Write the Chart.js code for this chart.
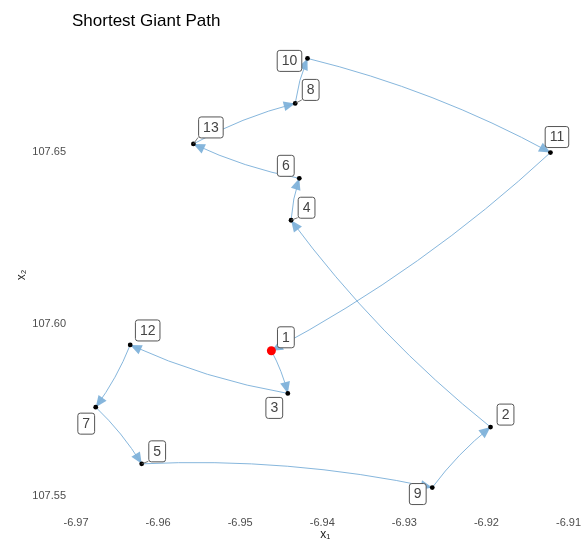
<!DOCTYPE html>
<html>
<head>
<meta charset="utf-8">
<script src="https://cdn.jsdelivr.net/npm/chart.js@4/dist/chart.umd.min.js"></script>
<style>
html, body { margin: 0; padding: 0; background: #fff; }
</style>
</head>
<body>
<canvas id="myChart" width="583" height="542"></canvas>
<script>
// city ids and coordinates (x1 = longitude-ish, x2 = latitude-ish)
const cityIds = [1, 2, 3, 4, 5, 6, 7, 8, 9, 10, 11, 12, 13];
const cityX1 = [-6.9462, -6.9195, -6.9442, -6.9438, -6.9620, -6.9428, -6.9676, -6.9433, -6.9266, -6.9418, -6.9122, -6.9634, -6.9557];
const cityX2 = [107.5922, 107.5700, 107.5798, 107.6302, 107.5593, 107.6424, 107.5758, 107.6642, 107.5524, 107.6773, 107.6499, 107.5939, 107.6524];
const pathOrder = [1, 3, 12, 7, 5, 9, 2, 4, 6, 13, 8, 10, 11, 1];
const startCity = 1;
const xTicks = [-6.97, -6.96, -6.95, -6.94, -6.93, -6.92, -6.91];
const yTicks = [107.55, 107.60, 107.65];

// label nudges in pixels (repel style)
const labelNudge = {
    1: [14, -14], 2: [14.5, -13], 3: [-14, 14], 4: [15, -13], 5: [15, -13],
    6: [-14, -13], 7: [-10, 16], 8: [15, -14], 9: [-15, 6], 10: [-18.5, 2],
    11: [6, -16], 12: [17, -15], 13: [17, -17]
};

const arrowColor = 'rgba(128,178,218,0.95)';
const fontFamily = "'Liberation Sans', Arial, sans-serif";

function drawArrow(ctx, x0, y0, x1, y1) {
    const dx = x1 - x0;
    const dy = y1 - y0;
    const len = Math.sqrt(dx * dx + dy * dy);
    // control point to the left of travel direction
    const cx = (x0 + x1) / 2 + dy / len * 0.065 * len;
    const cy = (y0 + y1) / 2 - dx / len * 0.065 * len;

    ctx.strokeStyle = arrowColor;
    ctx.lineWidth = 1;
    ctx.beginPath();
    ctx.moveTo(x0, y0);
    ctx.quadraticCurveTo(cx, cy, x1, y1);
    ctx.stroke();

    let tx = x1 - cx;
    let ty = y1 - cy;
    const tl = Math.sqrt(tx * tx + ty * ty);
    tx /= tl;
    ty /= tl;
    const headLen = 11.5;
    const headW = 5;
    const bx = x1 - tx * headLen;
    const by = y1 - ty * headLen;
    ctx.fillStyle = arrowColor;
    ctx.beginPath();
    ctx.moveTo(x1, y1);
    ctx.lineTo(bx - ty * headW, by + tx * headW);
    ctx.lineTo(bx + ty * headW, by - tx * headW);
    ctx.closePath();
    ctx.fill();
}

function roundRect(ctx, x, y, w, h, r) {
    ctx.beginPath();
    ctx.moveTo(x + r, y);
    ctx.lineTo(x + w - r, y);
    ctx.arcTo(x + w, y, x + w, y + r, r);
    ctx.lineTo(x + w, y + h - r);
    ctx.arcTo(x + w, y + h, x + w - r, y + h, r);
    ctx.lineTo(x + r, y + h);
    ctx.arcTo(x, y + h, x, y + h - r, r);
    ctx.lineTo(x, y + r);
    ctx.arcTo(x, y, x + r, y, r);
    ctx.closePath();
}

const pathPlugin = {
    id: 'pathPlugin',
    beforeDatasetsDraw(chart) {
        const ctx = chart.ctx;
        const xs = chart.scales.x;
        const ys = chart.scales.y;
        ctx.save();
        for (let k = 0; k < pathOrder.length - 1; k++) {
            const a = cityIds.indexOf(pathOrder[k]);
            const b = cityIds.indexOf(pathOrder[k + 1]);
            drawArrow(ctx,
                xs.getPixelForValue(cityX1[a]), ys.getPixelForValue(cityX2[a]),
                xs.getPixelForValue(cityX1[b]), ys.getPixelForValue(cityX2[b]));
        }
        ctx.restore();
    },
    afterDatasetsDraw(chart) {
        const ctx = chart.ctx;
        const xs = chart.scales.x;
        const ys = chart.scales.y;
        ctx.save();
        ctx.font = '14px ' + fontFamily;
        ctx.textAlign = 'center';
        ctx.textBaseline = 'middle';
        cityIds.forEach((id, i) => {
            const px = xs.getPixelForValue(cityX1[i]);
            const py = ys.getPixelForValue(cityX2[i]);
            const cx = px + labelNudge[id][0];
            const cy = py + labelNudge[id][1];
            const text = String(id);
            const w = ctx.measureText(text).width + 9;
            const h = 21;
            const left = cx - w / 2;
            const top = cy - h / 2;

            // segment from point to box when the box sits away from it
            const nx = Math.min(Math.max(px, left), left + w);
            const ny = Math.min(Math.max(py, top), top + h);
            const d = Math.hypot(nx - px, ny - py);
            if (d > 6.8) {
                ctx.strokeStyle = '#555';
                ctx.lineWidth = 0.8;
                ctx.beginPath();
                ctx.moveTo(px, py);
                ctx.lineTo(nx, ny);
                ctx.stroke();
            }

            roundRect(ctx, left + 0.5, top + 0.5, w, h, 2.5);
            ctx.fillStyle = '#fff';
            ctx.fill();
            ctx.strokeStyle = '#555';
            ctx.lineWidth = 1;
            ctx.stroke();
            ctx.fillStyle = '#444';
            ctx.fillText(text, cx + 0.5, cy + 1);
        });
        ctx.restore();
    }
};

const pts = cityIds.map((id, i) => ({ x: cityX1[i], y: cityX2[i] }));

const myChart = new Chart(document.getElementById('myChart').getContext('2d'), {
    type: 'scatter',
    data: {
        datasets: [{
            data: pts,
            pointRadius: cityIds.map(id => id === startCity ? 4.5 : 2.4),
            pointHoverRadius: cityIds.map(id => id === startCity ? 4.5 : 2.4),
            pointBackgroundColor: cityIds.map(id => id === startCity ? '#ff0000' : '#000000'),
            pointBorderWidth: 0
        }]
    },
    options: {
        responsive: false,
        animation: false,
        devicePixelRatio: 1,
        layout: { padding: 0 },
        plugins: {
            legend: { display: false },
            tooltip: { enabled: false },
            title: {
                display: true,
                text: 'Shortest Giant Path',
                align: 'start',
                fullSize: false,
                color: '#000',
                font: { family: fontFamily, size: 17, weight: 'normal' },
                padding: { top: 11, bottom: 8.6 }
            }
        },
        scales: {
            x: {
                type: 'linear',
                min: -6.97049,
                max: -6.908783,
                grid: { display: false, drawTicks: false },
                border: { display: false },
                afterBuildTicks: s => { s.ticks = xTicks.map(v => ({ value: v })); },
                afterFit: s => { s.height = 32; s.paddingLeft = 0; s.paddingRight = 0; },
                ticks: {
                    color: '#4D4D4D',
                    padding: 6,
                    font: { family: fontFamily, size: 11 },
                    callback: v => v.toFixed(2)
                },
                title: {
                    display: true,
                    text: 'x₁',
                    color: '#1a1a1a',
                    font: { family: fontFamily, size: 12 },
                    padding: { top: 0, bottom: 0 }
                }
            },
            y: {
                type: 'linear',
                min: 107.545867,
                max: 107.682654,
                grid: { display: false, drawTicks: false },
                border: { display: false },
                afterBuildTicks: s => { s.ticks = yTicks.map(v => ({ value: v })); },
                afterFit: s => { s.width = 72; s.paddingTop = 0; s.paddingBottom = 0; },
                ticks: {
                    color: '#4D4D4D',
                    padding: 6,
                    font: { family: fontFamily, size: 11 },
                    callback: v => v.toFixed(2)
                },
                title: {
                    display: true,
                    text: 'x₂',
                    color: '#1a1a1a',
                    font: { family: fontFamily, size: 12 },
                    padding: { top: 14, bottom: 0 }
                }
            }
        }
    },
    plugins: [pathPlugin]
});
</script>
</body>
</html>
